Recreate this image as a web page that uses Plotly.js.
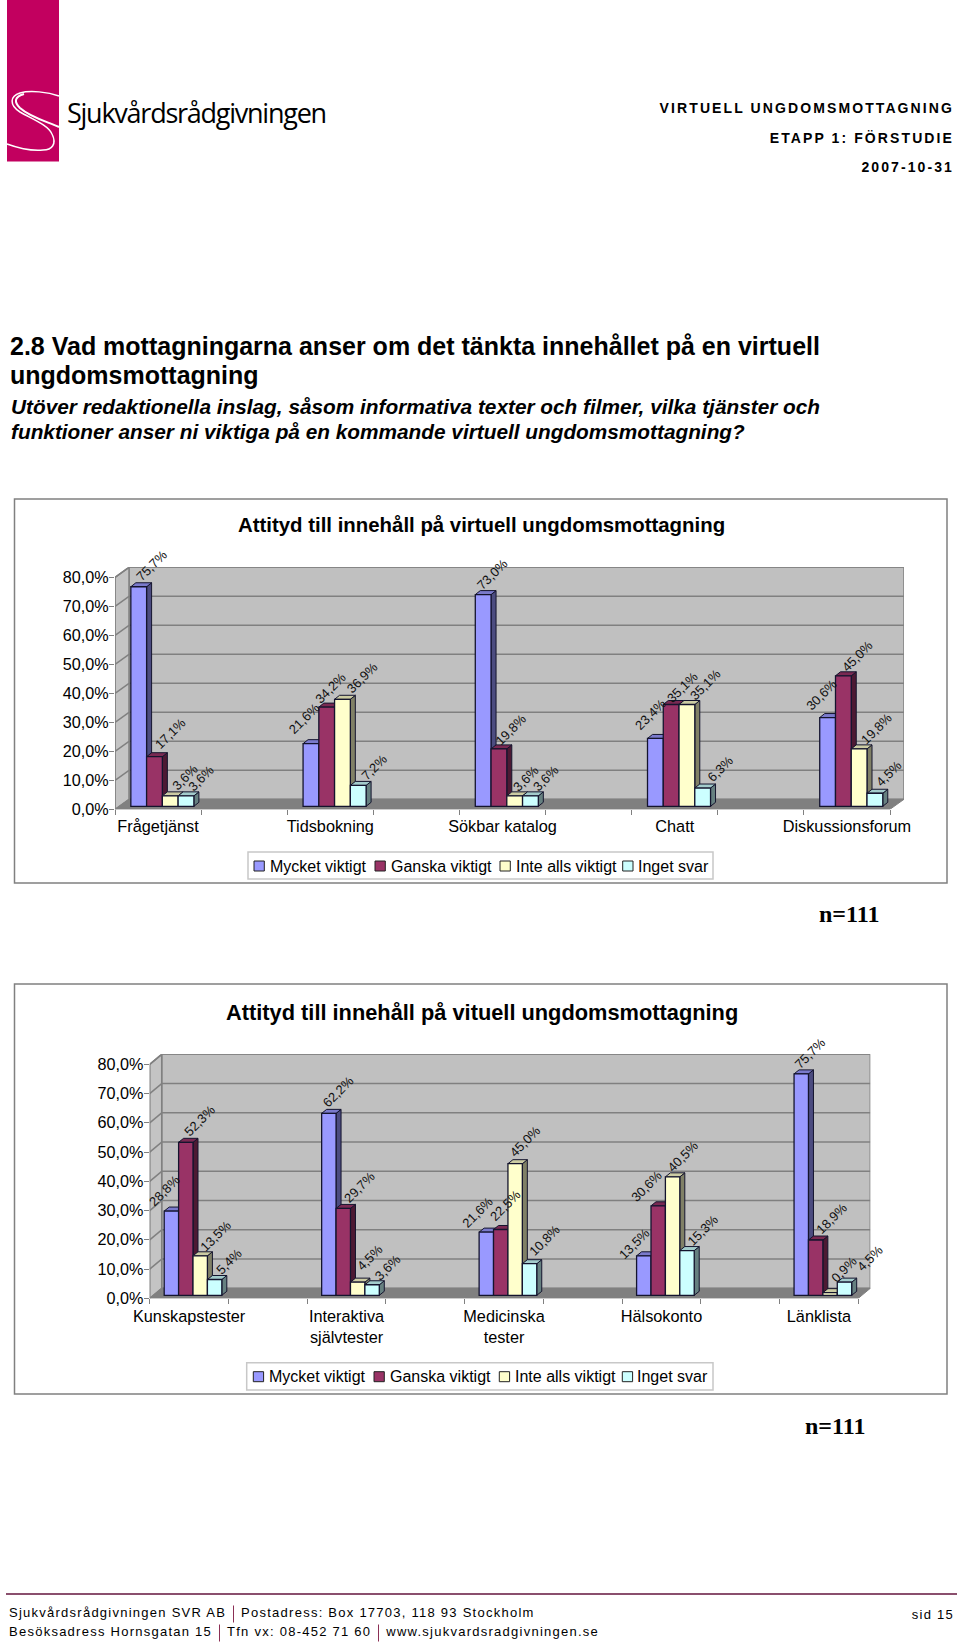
<!DOCTYPE html>
<html><head><meta charset="utf-8">
<script src="https://cdn.plot.ly/plotly-3.0.1.min.js"></script>
<style>
html,body{margin:0;padding:0;background:#fff;}
#page{position:relative;width:960px;height:1647px;overflow:hidden;font-family:"Liberation Sans",Arial,sans-serif;color:#000;}
#plot{position:absolute;left:0;top:0;width:960px;height:1647px;}
.t{position:absolute;white-space:nowrap;line-height:1;}
.hdr{font-weight:bold;font-size:14px;letter-spacing:2.1px;right:6px;transform:translateY(-50%);}
.h1{font-weight:bold;font-size:25px;left:10px;transform:translateY(-50%);}
.h2{font-weight:bold;font-style:italic;font-size:20.8px;left:11px;transform:translateY(-50%);}
.ft{font-size:13px;letter-spacing:1.25px;transform:translateY(-50%);}
.ft i{display:inline-block;width:1px;height:17px;background:#8b2f55;margin:0 7px;vertical-align:middle;}
</style></head><body>
<div id="page">
<div id="plot"></div>
<svg class="t" style="left:0;top:0" width="60" height="170">
<rect x="7" y="0" width="52" height="161.5" fill="#c2005f"/>
<path d="M59,96 C48,92 30,90 20,93 C10,96 9,105 20,112 C32,119 48,125 52,134 C57,144 52,150 43,150 C32,151 18,148 7,144" fill="none" stroke="#fff" stroke-width="1.5"/>
<path d="M59,127 C45,121 30,117 20,108 C14,102 14,97 24,94" fill="none" stroke="#fff" stroke-width="2"/>
</svg>
<div class="t" style="left:67px;top:112px;transform:translateY(-50%);font-family:'Open Sans';font-size:27px;letter-spacing:-1.25px;">Sjukvårdsrådgivningen</div>
<div class="t hdr" style="top:108px">VIRTUELL UNGDOMSMOTTAGNING</div>
<div class="t hdr" style="top:138px">ETAPP 1: FÖRSTUDIE</div>
<div class="t hdr" style="top:167px">2007-10-31</div>
<div class="t h1" style="top:346px">2.8 Vad mottagningarna anser om det tänkta innehållet på en virtuell</div>
<div class="t h1" style="top:375px">ungdomsmottagning</div>
<div class="t h2" style="top:407px">Utöver redaktionella inslag, såsom informativa texter och filmer, vilka tjänster och</div>
<div class="t h2" style="top:432px">funktioner anser ni viktiga på en kommande virtuell ungdomsmottagning?</div>
<div class="t" style="left:6px;top:1593px;width:951px;height:2px;background:#8a4f6d"></div>
<div class="t ft" style="left:9px;top:1614px">Sjukvårdsrådgivningen SVR AB<i></i>Postadress: Box 17703, 118 93 Stockholm</div>
<div class="t ft" style="left:9px;top:1633px">Besöksadress Hornsgatan 15<i></i>Tfn vx: 08-452 71 60<i></i>www.sjukvardsradgivningen.se</div>
<div class="t ft" style="right:6px;top:1614px">sid 15</div>
</div>
<script>
// ---------- data ----------
var seriesNames = ['Mycket viktigt','Ganska viktigt','Inte alls viktigt','Inget svar'];
var seriesColors = ['#9999FF','#993366','#FFFFCC','#CCFFFF'];
var sideColors  = ['#4C4C80','#4D1933','#808066','#668080'];
var topColors   = ['#7A7ACC','#7A2952','#CCCCA3','#A3CCCC'];
var tickValues = [0,10,20,30,40,50,60,70,80];
var tickLabels = ['0,0%','10,0%','20,0%','30,0%','40,0%','50,0%','60,0%','70,0%','80,0%'];

var categories1 = ['Frågetjänst','Tidsbokning','Sökbar katalog','Chatt','Diskussionsforum'];
var mycket1 = [75.7,21.6,73.0,23.4,30.6];
var ganska1 = [17.1,34.2,19.8,35.1,45.0];
var inteAlls1 = [3.6,36.9,3.6,35.1,19.8];
var ingetSvar1 = [3.6,7.2,3.6,6.3,4.5];

var categories2 = ['Kunskapstester','Interaktiva<br>självtester','Medicinska<br>tester','Hälsokonto','Länklista'];
var mycket2 = [28.8,62.2,21.6,13.5,75.7];
var ganska2 = [52.3,29.7,22.5,30.6,18.9];
var inteAlls2 = [13.5,4.5,45.0,40.5,0.9];
var ingetSvar2 = [5.4,3.6,10.8,15.3,4.5];

// label nudges in px from the top centre of each bar: [category][series]
var labelDx1 = [[13,16,14.6,14.7],[-6.5,3.3,20.3,15.7],[9,12,11.3,15.3],[-5,11,18.7,17.7],[-5.7,13.7,17.6,14]];
var labelDy1 = [[21.5,23,18.6,17.6],[24.7,19,21.3,18.4],[20,19.6,17.3,17.3],[24,17,19.7,20],[23,19.2,20.3,19.7]];
var labelDx2 = [[-6.6,14,14.8,14.3],[9.7,15.8,12.3,15.8],[-9,4.6,10,14.7],[-9,-12,10,15.4],[8.8,16,13.8,25.3]];
var labelDy2 = [[20.4,22,19.8,18.2],[21.4,21,24.4,17],[19.8,23.8,21.7,23.4],[12,19.5,20.8,20.5],[20,21.7,23.4,23.8]];

// ---------- geometry of the two panels (px on the page) ----------
var W = 960, H = 1647;
var panels = [
 {ax:'', left:115, right:890, top80:577.3, bottom:809.3, depthX:14, depthY:10, labelGap:2,
  frame:[14.5,499,947,883], legendBox:[248,852,713,879], swX:[254,375,500,622.7], txX:[269,390,515,637], legY:866,
  title:'Attityd till innehåll på virtuell ungdomsmottagning', titleSize:20.4, titleY:525, nX:849, nY:914,
  cats:categories1, vals:[mycket1,ganska1,inteAlls1,ingetSvar1], dx:labelDx1, dy:labelDy1},
 {ax:'2', left:149.7, right:858.3, top80:1064.3, bottom:1298.3, depthX:12, depthY:10, labelGap:3,
  frame:[14.5,984,947,1394], legendBox:[246.7,1362.7,713,1390], swX:[253.3,374,499.3,622.3], txX:[268.3,389,514,636.3], legY:1376.7,
  title:'Attityd till innehåll på vituell ungdomsmottagning', titleSize:21.8, titleY:1012, nX:834.5, nY:1426,
  cats:categories2, vals:[mycket2,ganska2,inteAlls2,ingetSvar2], dx:labelDx2, dy:labelDy2}
];
var SLOTS = 9, BAR = 0.183, GROUP_SHIFT = 0.05, BAR_LIFT_PX = 3, BAR_DX = 5, BAR_DY = 4;
function px(x){return x/W;} function py(y){return 1-y/H;}

var traces = [], shapes = [], annotations = [];
var layout = {width:W,height:H,margin:{l:0,r:0,t:0,b:0},paper_bgcolor:'rgba(0,0,0,0)',plot_bgcolor:'rgba(0,0,0,0)',
  showlegend:false,bargap:0,barmode:'overlay',hovermode:false,
  font:{family:'"Liberation Sans",Arial,sans-serif',color:'#000',size:16}};

panels.forEach(function(p){
  var xa='x'+p.ax, ya='y'+p.ax;
  var uX=(p.right-p.left)/SLOTS, uY=(p.bottom-p.top80)/80;
  var dX=p.depthX/uX, dY=p.depthY/uY;
  var xMax=SLOTS+dX, yMax=80+dY;
  layout['xaxis'+p.ax]={domain:[px(p.left),px(p.right+p.depthX)],range:[0,xMax],anchor:ya,showgrid:false,zeroline:false,showline:false,
    tickmode:'array',tickvals:p.cats.map(function(c,i){return 2*i+0.5;}),ticktext:p.cats,ticks:'outside',ticklen:p.labelGap,tickcolor:'rgba(0,0,0,0)',tickangle:0,
    tickfont:{size:16.3},fixedrange:true,
    minor:{tickmode:'linear',tick0:0,dtick:1,ticks:'outside',ticklen:5,tickcolor:'#808080',tickwidth:1,showgrid:false}};
  layout['yaxis'+p.ax]={domain:[py(p.bottom),py(p.top80-p.depthY)],range:[0,yMax],anchor:xa,showgrid:false,zeroline:false,showline:false,
    tickmode:'array',tickvals:tickValues,ticktext:tickLabels,ticks:'outside',ticklen:5,tickcolor:'#808080',tickwidth:1,ticklabelstandoff:-3,
    tickfont:{size:16.2},fixedrange:true};

  // walls, floor and gridlines, placed in axis units
  var gline={color:'#808080',width:1.5};
  function poly(pts,fill,line){
    var d=pts.map(function(q,i){return (i?'L':'M')+q[0]+','+q[1];}).join('')+'Z';
    shapes.push({type:'path',xref:xa,yref:ya,path:d,fillcolor:fill,line:line||{width:0},layer:'below'});
  }
  poly([[dX,dY],[xMax,dY],[xMax,yMax],[dX,yMax]],'#C0C0C0',gline);       // back wall
  poly([[0,0],[dX,dY],[dX,yMax],[0,80]],'#C4C4C4',gline);                 // side wall
  poly([[0,0],[dX,dY],[xMax,dY],[SLOTS,0]],'#808080',{color:'#808080',width:1}); // floor
  tickValues.forEach(function(v){ if(v===0) return;
    shapes.push({type:'line',xref:xa,yref:ya,x0:0,y0:v,x1:dX,y1:v+dY,line:gline,layer:'below'});
    shapes.push({type:'line',xref:xa,yref:ya,x0:dX,y0:v+dY,x1:xMax,y1:v+dY,line:gline,layer:'below'});
  });
  shapes.push({type:'line',xref:xa,yref:ya,x0:0,y0:0,x1:0,y1:80,line:{color:'#808080',width:1},layer:'below'});
  shapes.push({type:'line',xref:xa,yref:ya,x0:0,y0:0,x1:SLOTS,y1:0,line:{color:'#808080',width:1},layer:'below'});

  // frame, title, n
  shapes.push({type:'rect',xref:'paper',yref:'paper',x0:px(p.frame[0]),x1:px(p.frame[2]),y0:py(p.frame[1]),y1:py(p.frame[3]),line:{color:'#808080',width:1.5},fillcolor:'rgba(0,0,0,0)',layer:'below'});
  annotations.push({xref:'paper',yref:'paper',x:px(481.5),y:py(p.titleY),xanchor:'center',yanchor:'middle',showarrow:false,text:'<b>'+p.title+'</b>',font:{size:p.titleSize}});
  annotations.push({xref:'paper',yref:'paper',x:px(p.nX),y:py(p.nY),xanchor:'center',yanchor:'middle',showarrow:false,text:'<b>n=111</b>',font:{family:'"Liberation Serif",serif',size:24}});

  // legend
  shapes.push({type:'rect',xref:'paper',yref:'paper',x0:px(p.legendBox[0]),x1:px(p.legendBox[2]),y0:py(p.legendBox[1]),y1:py(p.legendBox[3]),line:{color:'#C8C8C8',width:1.5},fillcolor:'#fff',layer:'below'});

  // bars with 3D sides (sides and tops sit under the bar fronts)
  var lift=BAR_LIFT_PX/uY, bdx=BAR_DX/uX, bdy=BAR_DY/uY;
  var edge={color:'#14142e',width:1};
  p.vals.forEach(function(vals,s){
    var off=GROUP_SHIFT-2*BAR+s*BAR;
    var xs=p.cats.map(function(c,i){return 2*i+0.5;});
    xs.forEach(function(x,i){
      var l=x+off,r=l+BAR,top=vals[i]+lift;
      poly([[r,lift],[r+bdx,lift+bdy],[r+bdx,top+bdy],[r,top]],sideColors[s],edge);
      poly([[l,top],[l+bdx,top+bdy],[r+bdx,top+bdy],[r,top]],topColors[s],edge);
      annotations.push({xref:xa,yref:ya,x:l+BAR/2,y:top,xshift:p.dx[i][s],yshift:p.dy[i][s],xanchor:'center',yanchor:'middle',
        showarrow:false,textangle:-45,text:vals[i].toFixed(1).replace('.',',')+'%',font:{size:13,color:'#111'},borderpad:0});
    });
    traces.push({type:'bar',name:seriesNames[s],xaxis:xa,yaxis:ya,x:xs,y:vals,base:lift,width:BAR,offset:off,
      marker:{color:seriesColors[s],line:{color:'#14142e',width:1.3}},hoverinfo:'skip',showlegend:false});
    // legend entry
    shapes.push({type:'rect',xref:'paper',yref:'paper',x0:px(p.swX[s]),x1:px(p.swX[s]+10.3),y0:py(p.legY-5),y1:py(p.legY+5),line:{color:'#222',width:1},fillcolor:seriesColors[s]});
    annotations.push({xref:'paper',yref:'paper',x:px(p.txX[s]),y:py(p.legY),xanchor:'left',yanchor:'middle',showarrow:false,text:seriesNames[s],font:{size:16},borderpad:0});
  });
});
layout.shapes=shapes; layout.annotations=annotations;
Plotly.newPlot('plot',traces,layout,{displayModeBar:false,staticPlot:true,responsive:false});
</script>
</body></html>
